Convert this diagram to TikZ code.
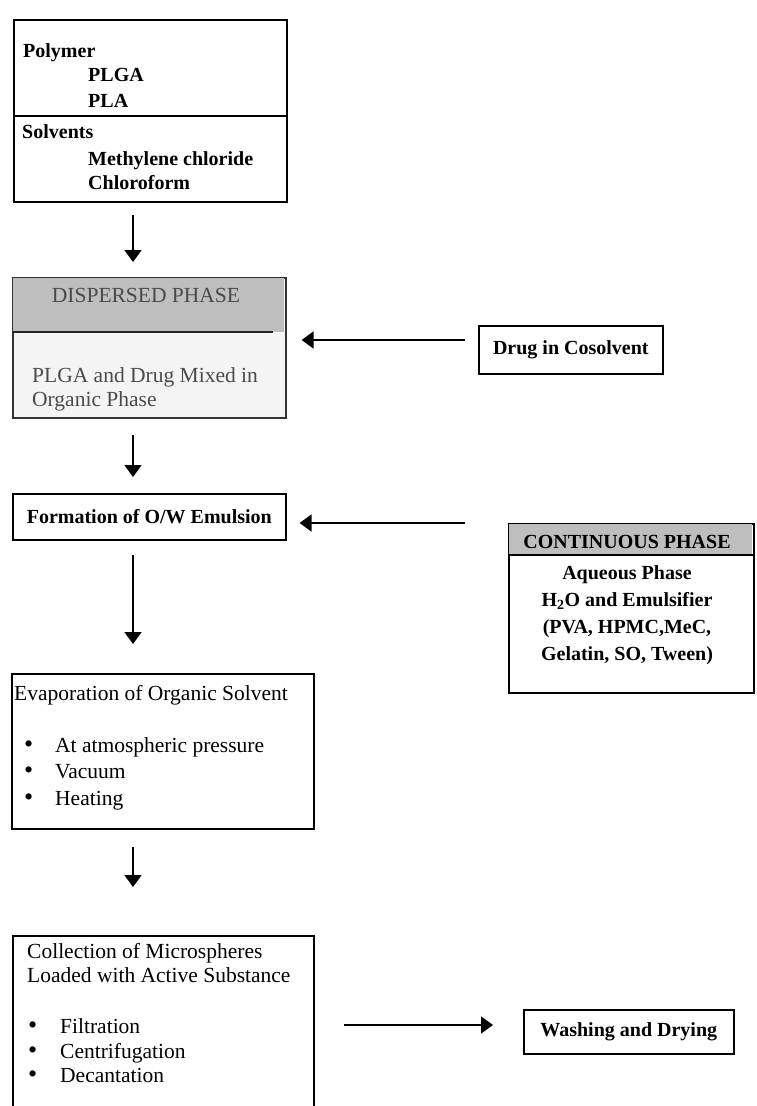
\documentclass[tikz,border=0pt]{standalone}
\usepackage{fontspec}
\setmainfont{Liberation Serif}
\usetikzlibrary{arrows.meta}
\definecolor{hdrgray}{HTML}{BEBEBE}
\definecolor{bodygray}{HTML}{F4F4F4}
\definecolor{dtext}{HTML}{4A4A4A}
\newcommand{\bigbul}{\smash{\fontsize{26}{24}\selectfont\textbullet}}
\begin{document}
\begin{tikzpicture}[x=1pt,y=-1pt,
  box/.style={draw=black, line width=1.6pt, inner sep=0pt, anchor=north west},
  bt/.style={font=\fontsize{20}{24}\selectfont\bfseries, inner sep=0pt},
  rt/.style={font=\fontsize{21.5}{24}\selectfont, inner sep=0pt},
  arr/.style={line width=1.9pt, -{Triangle[width=17pt,length=12pt]}},
  sep/.style={line width=1.6pt}]
\fill[white] (0,0) rectangle (756,1106);
\useasboundingbox (0,0) rectangle (756,1106);

% ---- Box 1: polymer / solvents
\node[box, minimum width=273pt, minimum height=182pt] (b1) at (13,19) {};
\draw[sep] (13,116) -- (286,116);
\node[bt, anchor=base west] (p1) at (23,57) {Polymer};
\node[bt, anchor=base west] (p2) at (88,81) {PLGA};
\node[bt, anchor=base west] (p3) at (88,107) {PLA};
\node[bt, anchor=base west] (p4) at (22,138) {Solvents};
\node[bt, anchor=base west] (p5) at (88,165) {Methylene chloride};
\node[bt, anchor=base west] (p6) at (88,189) {Chloroform};

% ---- Box 2: dispersed phase
\node[box, draw=black!80, fill=bodygray, minimum width=273pt, minimum height=140pt] (b2) at (12,277) {};
\fill[hdrgray] (12.8,277.8) rectangle (284.2,332);
\draw[sep, draw=black!85] (12,332) -- (273,332);
\node[rt, text=dtext, anchor=base] (d1) at (146,302) {DISPERSED PHASE};
\node[rt, text=dtext, anchor=base west] (d2) at (32,382) {PLGA and Drug Mixed in};
\node[rt, text=dtext, anchor=base west] (d3) at (32,406) {Organic Phase};

% ---- Drug in cosolvent
\node[box, bt, minimum width=184pt, minimum height=48pt] (drug) at (478,325) {Drug in Cosolvent};

% ---- Formation of emulsion
\node[box, bt, minimum width=273pt, minimum height=46pt] (form) at (12,493) {Formation of O/W Emulsion};

% ---- Continuous phase
\node[box, minimum width=245pt, minimum height=169pt] (cont) at (508,523) {};
\fill[hdrgray] (508.8,523.8) rectangle (752.2,555);
\draw[sep] (508,555) -- (753,555);
\node[bt, anchor=base] (c1) at (627,548) {CONTINUOUS PHASE};
\node[bt, anchor=base] (c2) at (627,579) {Aqueous Phase};
\node[bt, anchor=base] (c3) at (627,606) {H\textsubscript{2}O and Emulsifier};
\node[bt, anchor=base] (c4) at (627,633) {(PVA, HPMC,MeC,};
\node[bt, anchor=base] (c5) at (627,660) {Gelatin, SO, Tween)};

% ---- Evaporation
\node[box, minimum width=302pt, minimum height=155pt] (evap) at (11,673) {};
\node[rt, anchor=base west] (e1) at (14,700) {Evaporation of Organic Solvent};
\node[rt, anchor=base west] (e2) at (24,752) {\makebox[31pt][l]{\bigbul}At atmospheric pressure};
\node[rt, anchor=base west] (e3) at (24,778) {\makebox[31pt][l]{\bigbul}Vacuum};
\node[rt, anchor=base west] (e4) at (24,805) {\makebox[31pt][l]{\bigbul}Heating};

% ---- Collection
\node[box, minimum width=301pt, minimum height=175pt] (coll) at (12,935) {};
\node[rt, anchor=base west] (k1) at (27,958) {Collection of Microspheres};
\node[rt, anchor=base west] (k2) at (27,982) {Loaded with Active Substance};
\node[rt, anchor=base west] (k3) at (28,1033) {\makebox[32pt][l]{\bigbul}Filtration};
\node[rt, anchor=base west] (k4) at (28,1058) {\makebox[32pt][l]{\bigbul}Centrifugation};
\node[rt, anchor=base west] (k5) at (28,1082) {\makebox[32pt][l]{\bigbul}Decantation};

% ---- Washing
\node[box, bt, minimum width=210pt, minimum height=44pt] (wash) at (523,1009) {Washing and Drying};

% ---- Connectors
\coordinate (ax) at (133,0);
\coordinate (ya) at (0,340);
\coordinate (yb) at (0,523);
\coordinate (yc) at (0,1025);
\draw[arr, shorten <=12pt, shorten >=15pt] (b1.south -| ax) -- (b2.north -| ax);
\draw[arr, shorten <=16pt, shorten >=16pt] (b2.south -| ax) -- (form.north -| ax);
\draw[arr, shorten <=14pt, shorten >=29pt] (form.south -| ax) -- (evap.north -| ax);
\draw[arr, shorten <=17pt, shorten >=48pt] (evap.south -| ax) -- (coll.north -| ax);
\draw[arr, shorten <=13pt, shorten >=15pt] (drug.west |- ya) -- (b2.east |- ya);
\draw[arr, shorten <=43pt, shorten >=13pt] (cont.west |- yb) -- (form.east |- yb);
\draw[arr, shorten <=29pt, shorten >=30pt] (coll.east |- yc) -- (wash.west |- yc);
\end{tikzpicture}
\end{document}
